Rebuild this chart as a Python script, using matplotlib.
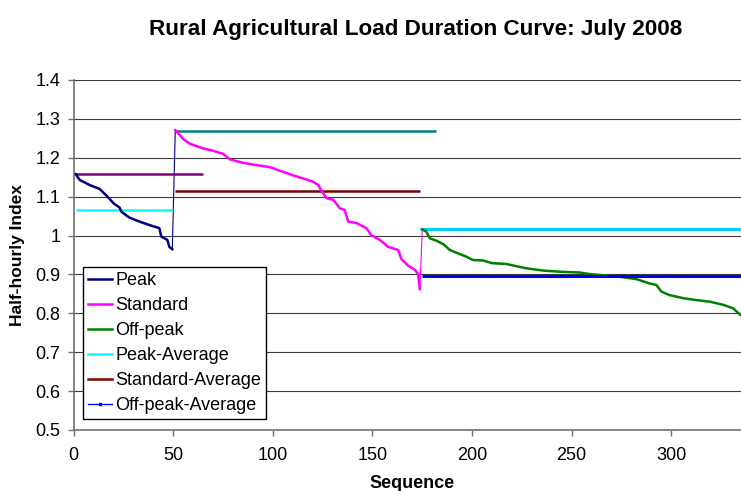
import matplotlib
matplotlib.use("Agg")
import matplotlib.pyplot as plt
from matplotlib.lines import Line2D

# Load duration data (sequence position, half-hourly index)
peak_x = [1, 3, 8, 13, 17, 20, 23, 24, 28, 33, 38, 43, 44, 47, 48, 49.5]
peak_y = [1.158, 1.143, 1.130, 1.120, 1.100, 1.083, 1.072, 1.061, 1.046,
          1.036, 1.027, 1.019, 0.997, 0.989, 0.971, 0.965]

standard_x = [51, 52.5, 55, 58.4, 65, 70, 75, 78.4, 85, 92, 98.5, 105, 110,
              115, 120, 122.7, 125.2, 127, 130.3, 133.6, 136, 137.8, 142, 147,
              149.5, 153.7, 157.8, 162.9, 164.6, 168, 171.3, 172.9, 173.8]
standard_y = [1.271, 1.263, 1.248, 1.236, 1.224, 1.218, 1.210, 1.196, 1.187,
              1.181, 1.176, 1.164, 1.155, 1.147, 1.139, 1.130, 1.109, 1.096,
              1.092, 1.070, 1.066, 1.036, 1.032, 1.019, 1.000, 0.989, 0.971,
              0.963, 0.939, 0.922, 0.912, 0.901, 0.862]

offpeak_x = [175, 177, 178.8, 182, 185.5, 188.8, 193, 197, 200.5, 205.5, 210,
             217, 227, 235.6, 244, 254, 259, 274, 282.5, 289, 292.5, 295, 299,
             306, 312.6, 319.3, 326, 331, 334.7, 337]
offpeak_y = [1.016, 1.010, 0.993, 0.987, 0.978, 0.963, 0.954, 0.946, 0.937,
             0.936, 0.929, 0.927, 0.916, 0.910, 0.907, 0.905, 0.901, 0.894,
             0.888, 0.877, 0.873, 0.856, 0.847, 0.839, 0.834, 0.830, 0.822,
             0.813, 0.796, 0.790]

# Period averages: (start, end, level)
peak_avg = (1, 50, 1.066)
standard_avg = (51, 174, 1.115)
offpeak_avg = (175, 340, 0.896)

# Period maxima reference lines: (start, end, level)
peak_top = (1, 65, 1.158)
standard_top = (51, 182, 1.270)
offpeak_top = (174, 340, 1.017)

x_ticks = [0, 50, 100, 150, 200, 250, 300]
y_ticks = [0.5, 0.6, 0.7, 0.8, 0.9, 1.0, 1.1, 1.2, 1.3, 1.4]
y_tick_labels = ["0.5", "0.6", "0.7", "0.8", "0.9", "1", "1.1", "1.2", "1.3", "1.4"]

plt.rcParams["font.family"] = ["Liberation Sans", "DejaVu Sans"]

W, H = 741, 491
fig = plt.figure(figsize=(W / 100, H / 100), dpi=100)
ax = fig.add_axes([73.7 / W, (H - 430) / H, (W - 73.7) / W, 350 / H])

ax.set_xlim(0, 335)
ax.set_ylim(0.5, 1.4)

# Horizontal gridlines
for yv in y_ticks:
    ax.axhline(yv, color="#3a3a3a", lw=0.8, zorder=1)

lw = 1.8
# Connectors between periods
ax.plot([peak_x[-1], standard_x[0]], [peak_y[-1], standard_y[0]],
        color="#000080", lw=0.8, zorder=3)
ax.plot([standard_x[-1], offpeak_x[0]], [standard_y[-1], offpeak_y[0]],
        color="#FF00FF", lw=0.8, zorder=3)

ax.plot(peak_x, peak_y, color="#000080", lw=lw, zorder=4)
ax.plot(standard_x, standard_y, color="#FF00FF", lw=lw, zorder=4)
ax.plot(offpeak_x, offpeak_y, color="#008000", lw=lw, zorder=4)

def hline(spec, color, width, z=3, **kw):
    x0, x1, level = spec
    ax.plot([x0, x1], [level, level], color=color, lw=width, zorder=z,
            solid_capstyle="butt", **kw)

hline(peak_top, "#800080", lw)
hline(standard_top, "#008080", lw)
hline(offpeak_top, "#00CCFF", 2.2)
hline(peak_avg, "#00FFFF", lw)
hline(standard_avg, "#800000", lw)
hline(offpeak_avg, "#0000FF", 2.2, z=5)

# Axes styling
for s in ("top", "right"):
    ax.spines[s].set_visible(False)
for s in ("left", "bottom"):
    ax.spines[s].set_color("#707070")
    ax.spines[s].set_linewidth(1.2)
ax.set_xticks(x_ticks)
ax.set_yticks(y_ticks)
ax.set_yticklabels(y_tick_labels)
ax.tick_params(axis="both", direction="out", length=4.5, width=1.0,
               color="#707070", labelsize=13, labelcolor="black")
ax.tick_params(axis="x", pad=8)
ax.tick_params(axis="y", pad=5)

fig.text(415.5 / W, 1 - 30 / H, "Rural Agricultural Load Duration Curve: July 2008",
         ha="center", va="center", fontsize=16.2, fontweight="bold")
fig.text(412 / W, 1 - 483 / H, "Sequence", ha="center", va="center",
         fontsize=13, fontweight="bold")
fig.text(18 / W, 1 - 255 / H, "Half-hourly Index", ha="center", va="center",
         rotation=90, fontsize=12.5, fontweight="bold")

handles = [
    Line2D([], [], color="#000080", lw=lw),
    Line2D([], [], color="#FF00FF", lw=lw),
    Line2D([], [], color="#008000", lw=lw),
    Line2D([], [], color="#00FFFF", lw=lw),
    Line2D([], [], color="#800000", lw=lw),
    Line2D([], [], color="#0000FF", lw=1.0, marker="s", markersize=2),
]
labels = ["Peak", "Standard", "Off-peak", "Peak-Average", "Standard-Average",
          "Off-peak-Average"]
leg = fig.legend(handles, labels, loc="lower left",
                 bbox_to_anchor=(83 / W, (H - 419) / H),
                 frameon=True, fancybox=False, shadow=False, fontsize=13,
                 handlelength=1.35, handletextpad=0.2, borderpad=0.25,
                 labelspacing=0.45, borderaxespad=0)
leg.get_frame().set_edgecolor("black")
leg.get_frame().set_linewidth(1.0)
leg.get_frame().set_alpha(1)

fig.savefig("out.png", dpi=100)
